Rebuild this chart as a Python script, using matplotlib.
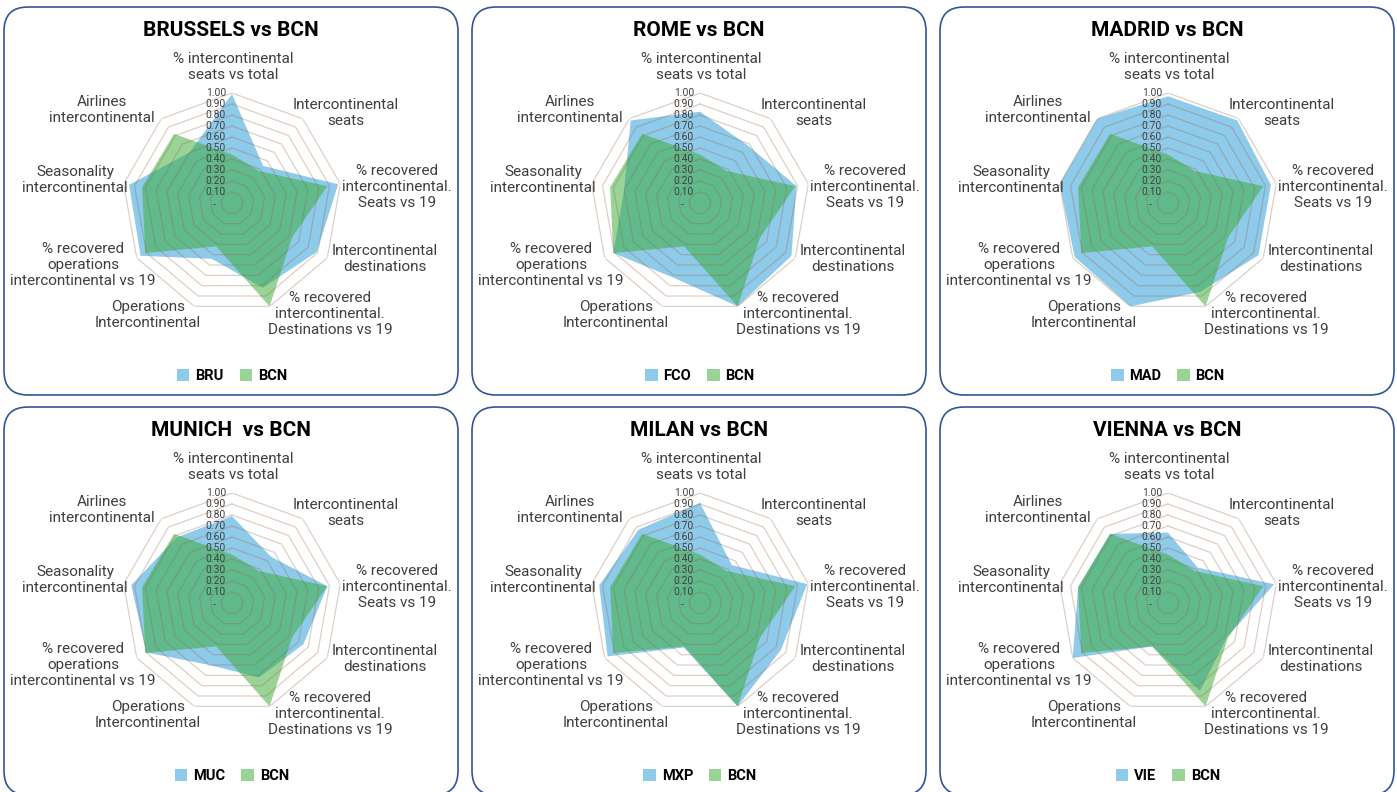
import numpy as np
import matplotlib
matplotlib.use("Agg")
import matplotlib.pyplot as plt
from matplotlib.patches import FancyBboxPatch, Patch
from matplotlib.transforms import IdentityTransform, offset_copy

# ---------------- data ----------------
categories = [
    "% intercontinental\nseats vs total",
    "Intercontinental\nseats",
    "% recovered\nintercontinental.\nSeats vs 19",
    "Intercontinental\ndestinations",
    "% recovered\nintercontinental.\nDestinations vs 19",
    "Operations\nIntercontinental",
    "% recovered\noperations\nintercontinental vs 19",
    "Seasonality\nintercontinental",
    "Airlines\nintercontinental",
]
titles = ["BRUSSELS vs BCN", "ROME vs BCN", "MADRID vs BCN",
          "MUNICH  vs BCN", "MILAN vs BCN", "VIENNA vs BCN"]
codes = ["BRU", "FCO", "MAD", "MUC", "MXP", "VIE"]

bcn = [0.44, 0.38, 0.88, 0.63, 1.00, 0.42, 0.91, 0.83, 0.82]
bru = [0.99, 0.44, 0.98, 0.89, 0.82, 0.54, 0.96, 0.95, 0.60]
fco = [0.83, 0.68, 0.89, 0.96, 1.00, 0.72, 0.91, 0.70, 0.98]
mad = [0.97, 0.98, 0.95, 0.95, 0.86, 1.00, 0.98, 1.00, 1.00]
muc = [0.79, 0.55, 0.88, 0.75, 0.72, 0.60, 0.90, 0.93, 0.78]
mxp = [0.91, 0.45, 0.99, 0.85, 1.00, 0.43, 0.97, 0.93, 0.87]
vie = [0.64, 0.42, 0.98, 0.62, 0.85, 0.42, 1.00, 0.83, 0.82]
others = [bru, fco, mad, muc, mxp, vie]

ticks = [0.1, 0.2, 0.3, 0.4, 0.5, 0.6, 0.7, 0.8, 0.9, 1.0]
tick_labels = ["0.10", "0.20", "0.30", "0.40", "0.50", "0.60", "0.70", "0.80", "0.90", "1.00"]

# ---------------- style ----------------
W, H = 1397, 792
plt.rcParams['font.family'] = ['Roboto', 'DejaVu Sans']
BLUE = (30/255, 150/255, 215/255)
GREEN = (53/255, 171/255, 47/255)
FILL_ALPHA = 0.5
RING = (150/255, 95/255, 60/255, 0.30)
TXT = '#3f3f3f'
FRAME = '#2F5597'

# pixel offsets of category labels relative to the radar centre
label_off = [(1, -136), (114, -90), (165, -16), (153, 56), (98, 111),
             (-84, 112), (-149, 62), (-157, -23), (-130, -93)]

fig = plt.figure(figsize=(W / 100, H / 100), dpi=100)

n = len(categories)
angles = np.arange(n) * 2 * np.pi / n
ang_closed = np.concatenate([angles, angles[:1]])

PW, PH = 454, 388
R = 110
for i, (title, code, vals) in enumerate(zip(titles, codes, others)):
    col, row = i % 3, i // 3
    x0 = 4 + 468 * col
    y0 = 7 + 400 * row
    fig.add_artist(FancyBboxPatch((x0, H - y0 - PH), PW, PH,
                                  boxstyle="round,pad=0,rounding_size=24",
                                  transform=IdentityTransform(),
                                  fc='white', ec=FRAME, lw=1.2, zorder=-5))
    cx = 232 + 468 * col
    cy = 203 + 400 * row

    ax = fig.add_axes([(cx - R) / W, 1 - (cy + R) / H, 2 * R / W, 2 * R / H],
                      projection='polar')
    ax.set_theta_zero_location('N')
    ax.set_theta_direction(-1)
    ax.set_ylim(0, 1)
    ax.grid(False)
    ax.spines['polar'].set_visible(False)
    ax.set_xticks([])
    ax.set_yticks([])
    ax.patch.set_visible(False)

    v = np.concatenate([vals, vals[:1]])
    b = np.concatenate([bcn, bcn[:1]])
    ax.fill(ang_closed, v, color=BLUE, alpha=FILL_ALPHA, lw=0, zorder=2)
    ax.fill(ang_closed, b, color=GREEN, alpha=FILL_ALPHA, lw=0, zorder=3)

    for t in ticks:
        ax.plot(ang_closed, [t] * (n + 1), color=RING, lw=0.9, zorder=4)

    tr = offset_copy(ax.transData, fig=fig, x=-6, y=0, units='dots')
    for t, lab in zip(ticks, tick_labels):
        ax.text(0, t, lab, transform=tr, ha='right', va='center',
                fontsize=7.4, color=TXT, zorder=6)
    tr0 = offset_copy(ax.transData, fig=fig, x=-18, y=-2, units='dots')
    ax.text(0, 0, "-", transform=tr0, ha='center', va='center',
            fontsize=7.4, color=TXT, zorder=6)

    for lab, (dx, dy) in zip(categories, label_off):
        fig.text((cx + dx) / W, 1 - (cy + dy) / H, lab, ha='center', va='center',
                 fontsize=11, color=TXT, linespacing=1.16)

    fig.text((x0 + PW / 2) / W, 1 - (y0 + 23) / H, title, ha='center', va='center',
             fontsize=15, fontweight='bold', color='black')

    handles = [Patch(facecolor=BLUE, alpha=FILL_ALPHA, lw=0),
               Patch(facecolor=GREEN, alpha=FILL_ALPHA, lw=0)]
    fig.legend(handles, [code, 'BCN'], loc='center',
               bbox_to_anchor=(cx / W, 1 - (376 + 400 * row) / H),
               ncol=2, frameon=False, handlelength=0.85, handleheight=0.85,
               handletextpad=0.4, columnspacing=1.1,
               prop={'weight': 'bold', 'size': 10.5})

fig.savefig("out.png", dpi=100)
